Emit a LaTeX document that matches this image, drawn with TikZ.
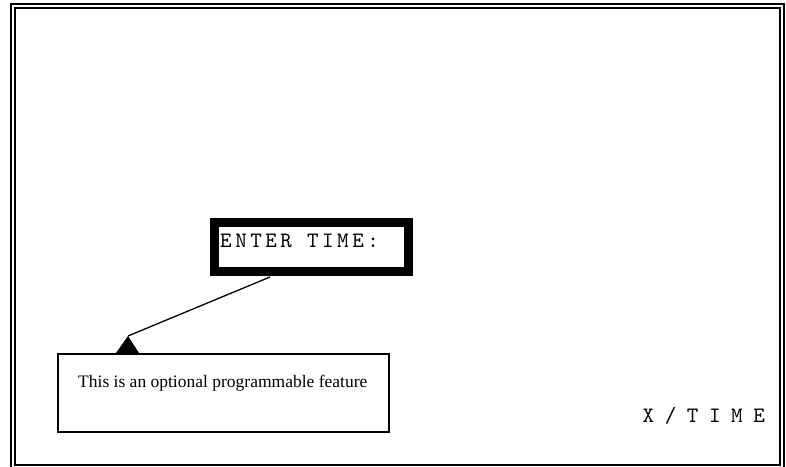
\documentclass[tikz,border=0pt]{standalone}
\usepackage{fontspec}
\setmainfont{Liberation Serif}
\newfontfamily\lcdfont[LetterSpace=16]{lmmono10-regular.otf}
\newfontfamily\modefont[LetterSpace=48]{lmmono10-regular.otf}
\usetikzlibrary{positioning}
\tikzset{
  frameline/.style={draw=black,line width=2pt},
  lcdbox/.style={draw=black,line width=9pt,fill=white,minimum width=194pt,
    minimum height=49pt,inner sep=0pt},
  lcdtext/.style={font=\lcdfont\fontsize{22}{24}\selectfont,inner sep=0pt},
  modetext/.style={font=\modefont\fontsize{22}{24}\selectfont,inner sep=0pt},
  notebox/.style={draw=black,line width=1.5pt,fill=white,minimum width=331pt,
    minimum height=78pt,inner sep=0pt},
  notetext/.style={font=\fontsize{17.5}{20}\selectfont,inner sep=0pt},
  pointer/.style={draw=black,line width=1.3pt}
}

\begin{document}
\begin{tikzpicture}[x=1pt,y=-1pt]
  \useasboundingbox (0,0) rectangle (786,466);
  % double frame
  \draw[frameline] (11,470) -- (11,4) -- (784,4) -- (784,470);
  \draw[frameline] (15,464.5) -- (15,8) -- (780,8) -- (780,464.5) -- cycle;
  % display
  \node[lcdbox,anchor=north west] (lcd) at (209.5,217.5) {};
  \node[lcdtext,anchor=base west] (prompt) at (220,247) {ENTER TIME:};
  % pointer and note
  \coordinate (from) at (270,277);
  \node[notebox,anchor=north west] (note) at (57,353) {};
  \coordinate (tip) at (128,336);
  \draw[pointer] (from) -- (tip);
  \fill (tip) -- (note.north west -| 116,0) -- (note.north west -| 139,0) -- cycle;
  \node[notetext,anchor=base west] (notelabel) at (78,387)
    {This is an optional programmable feature};
  \node[modetext,anchor=base east] (mode) at (765,422) {X/TIME};
\end{tikzpicture}
\end{document}
